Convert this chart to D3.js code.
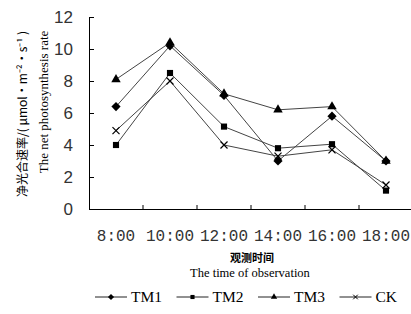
<!DOCTYPE html>
<html>
<head>
<meta charset="utf-8">
<script src="https://cdn.jsdelivr.net/npm/d3@7/dist/d3.min.js"></script>
<style>
  body { margin: 0; background: #fff; }
  svg { display: block; }
</style>
</head>
<body>
<script>
'use strict';

const width = 411;
const height = 314;

// data
const times = ['8:00', '10:00', '12:00', '14:00', '16:00', '18:00'];
const tm1 = [6.4, 10.2, 7.1, 3.0, 5.8, 3.0];
const tm2 = [4.0, 8.5, 5.15, 3.8, 4.05, 1.15];
const tm3 = [8.1, 10.4, 7.2, 6.2, 6.4, 3.0];
const ck  = [4.9, 8.0, 4.0, 3.3, 3.7, 1.5];
const seriesNames = ['TM1', 'TM2', 'TM3', 'CK'];
const seriesValues = [tm1, tm2, tm3, ck];
const yTicks = [0, 2, 4, 6, 8, 10, 12];

const symbols = [d3.symbolDiamond2, d3.symbolSquare2, d3.symbolTriangle2, d3.symbolX];
const markSize = [54, 48, 64, 34];

let x = d3.scaleBand()
    .domain(times)
    .range([89, 413]);

let y = d3.scaleLinear()
    .domain([0, 12])
    .range([209, 17]);

let svg = d3.select('body').append('svg')
    .attr('width', width)
    .attr('height', height);

// y axis
let yAxis = svg.append('g')
    .attr('transform', 'translate(89,0)')
    .call(d3.axisLeft(y).tickValues(yTicks).tickSizeInner(-5).tickSizeOuter(0).tickPadding(16));
yAxis.select('.domain').attr('stroke', '#000');
yAxis.selectAll('.tick line').attr('stroke', '#000');
yAxis.selectAll('.tick text')
    .attr('font-family', 'Liberation Sans, Arial, sans-serif')
    .attr('font-size', 17)
    .attr('fill', '#333');

// x axis: labels centred on bands, ticks on band edges
let xAxis = svg.append('g')
    .attr('transform', 'translate(0,209)')
    .call(d3.axisBottom(x).tickSize(0).tickPadding(0));
xAxis.select('.domain').attr('stroke', '#000');
xAxis.selectAll('.tick text')
    .attr('font-family', 'Liberation Mono, Courier New, monospace')
    .attr('font-size', 16)
    .attr('fill', '#333')
    .attr('dy', null)
    .attr('y', 32);

svg.append('g').selectAll('line')
    .data(times.slice(1))
    .join('line')
    .attr('x1', d => x(d))
    .attr('x2', d => x(d))
    .attr('y1', 209)
    .attr('y2', 205)
    .attr('stroke', '#000');

// axis titles
svg.append('text')
    .attr('x', 252)
    .attr('y', 262)
    .attr('text-anchor', 'middle')
    .attr('font-family', 'Noto Sans CJK SC')
    .attr('font-weight', 'bold')
    .attr('font-size', 11)
    .text('观测时间');

svg.append('text')
    .attr('x', 250)
    .attr('y', 277)
    .attr('text-anchor', 'middle')
    .attr('font-family', 'Liberation Serif, Times New Roman, serif')
    .attr('font-size', 12.5)
    .text('The time of observation');

svg.append('text')
    .attr('transform', 'translate(23,114) rotate(-90)')
    .attr('dy', '0.35em')
    .attr('text-anchor', 'middle')
    .attr('font-family', 'Noto Sans CJK SC')
    .attr('font-size', 12)
    .text('净光合速率/( μmol•m⁻²•s⁻¹ )');

svg.append('text')
    .attr('transform', 'translate(43,102) rotate(-90)')
    .attr('dy', '0.35em')
    .attr('text-anchor', 'middle')
    .attr('font-family', 'Liberation Serif, Times New Roman, serif')
    .attr('font-size', 13)
    .text('The net photosynthesis rate');

// series
let line = d3.line()
    .x((d, i) => x(times[i]) + x.bandwidth() / 2)
    .y(d => y(d));

seriesValues.forEach(function (vals, k) {
    let g = svg.append('g');
    g.append('path')
        .attr('d', line(vals))
        .attr('fill', 'none')
        .attr('stroke', '#444')
        .attr('stroke-width', 1);
    g.selectAll('path.m')
        .data(vals)
        .join('path')
        .attr('class', 'm')
        .attr('transform', (d, i) => 'translate(' + (x(times[i]) + x.bandwidth() / 2) + ',' + y(d) + ')')
        .attr('d', d3.symbol(symbols[k], markSize[k]))
        .attr('fill', k === 3 ? 'none' : '#000')
        .attr('stroke', '#000')
        .attr('stroke-width', k === 3 ? 1.2 : 0);
});

// legend
let legend = svg.append('g');
seriesNames.forEach(function (name, k) {
    let x0 = 95 + k * 81.5;
    let item = legend.append('g').attr('transform', 'translate(' + x0 + ',297)');
    item.append('line')
        .attr('x1', 0).attr('x2', 32)
        .attr('stroke', '#222');
    item.append('path')
        .attr('transform', 'translate(16,0)')
        .attr('d', d3.symbol(symbols[k], markSize[k] * 0.45))
        .attr('fill', k === 3 ? 'none' : '#000')
        .attr('stroke', '#000')
        .attr('stroke-width', k === 3 ? 1 : 0);
    item.append('text')
        .attr('x', 36)
        .attr('dy', '0.35em')
        .attr('font-family', 'Liberation Serif, Times New Roman, serif')
        .attr('font-size', 15.5)
        .text(name);
});
</script>
</body>
</html>
